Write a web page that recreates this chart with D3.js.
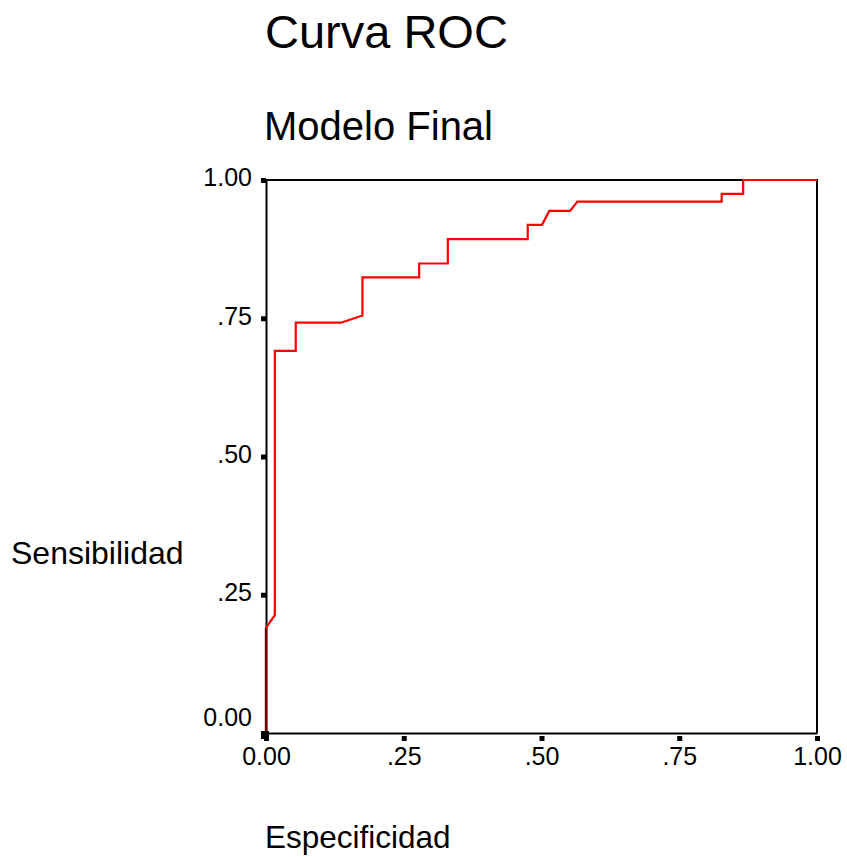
<!DOCTYPE html>
<html lang="es">
<head>
    <meta charset="UTF-8">
    <title>Curva ROC</title>
    <script src="https://d3js.org/d3.v7.min.js"></script>
    <style>
        body { margin: 0; background: #fff; }
        text { font-family: "Liberation Sans", Arial, sans-serif; fill: #000; }
        .axis path { stroke: #000; stroke-width: 2px; }
        .axis line { stroke: #000; stroke-width: 5px; }
        .axis text { font-size: 25px; }
        .roc { fill: none; stroke: #ff0000; stroke-width: 2.2px; }
    </style>
</head>
<body>
    <div id="chart"></div>
    <script>
        // ROC points (x = 1 - specificity, y = sensitivity)
        const fpr = [0, 0, 0.016, 0.016, 0.054, 0.054, 0.136, 0.175, 0.175, 0.278, 0.278, 0.330,
                     0.330, 0.475, 0.475, 0.501, 0.514, 0.552, 0.565, 0.827, 0.827, 0.866, 0.866, 1.0];
        const tpr = [0, 0.19, 0.213, 0.691, 0.691, 0.742, 0.742, 0.755, 0.824, 0.824, 0.849, 0.849,
                     0.893, 0.893, 0.919, 0.919, 0.944, 0.944, 0.961, 0.961, 0.975, 0.975, 1.0, 1.0];
        const tickValues = [0, 0.25, 0.5, 0.75, 1];
        const tickLabels = ["0.00", ".25", ".50", ".75", "1.00"];

        const width = 847, height = 857;
        const margin = { top: 180, right: 30, bottom: 124, left: 266 };

        const svg = d3.select("#chart").append("svg")
            .attr("width", width)
            .attr("height", height);

        const x = d3.scaleLinear().domain([0, 1]).range([margin.left, 817]);
        const y = d3.scaleLinear().domain([0, 1]).range([height - margin.bottom, margin.top]);

        // top / right frame
        svg.append("path")
            .attr("d", `M${x(0)},${y(1)}H${x(1)}V${y(0)}`)
            .attr("fill", "none")
            .attr("stroke", "#000")
            .attr("stroke-width", 2);

        // axes
        const yAxis = svg.append("g")
            .attr("class", "axis")
            .attr("transform", `translate(${x(0)},0)`)
            .call(d3.axisLeft(y).tickValues(tickValues).tickFormat((d, i) => tickLabels[i])
                .tickSizeInner(5).tickSizeOuter(0).tickPadding(14));
        yAxis.selectAll("text").attr("x", -14).attr("dy", d => d === 0 ? "-8px" : "0.23em");

        const xAxis = svg.append("g")
            .attr("class", "axis")
            .attr("transform", `translate(0,${y(0)})`)
            .call(d3.axisBottom(x).tickValues(tickValues).tickFormat((d, i) => tickLabels[i])
                .tickSizeInner(8).tickSizeOuter(0));
        xAxis.selectAll("line").attr("y1", 3).attr("stroke-width", 6);
        xAxis.selectAll("text").attr("y", 14).attr("dy", "0.71em");

        const points = fpr.map((v, i) => [v, tpr[i]]);
        const line = d3.line().x(d => x(d[0])).y(d => y(d[1]));

        svg.append("path")
            .datum(points)
            .attr("class", "roc")
            .attr("d", line);

        // part of the curve lying on the y axis looks dark red
        svg.append("path")
            .datum(points.slice(0, 2))
            .attr("fill", "none")
            .attr("stroke", "#700000")
            .attr("stroke-width", 2.2)
            .attr("d", line);

        // corner marker
        svg.append("rect")
            .attr("x", x(0) - 5).attr("y", y(0) - 2)
            .attr("width", 8).attr("height", 8)
            .attr("fill", "#000");

        // titles
        svg.append("text").attr("x", 265).attr("y", 48)
            .style("font-size", "47px").text("Curva ROC");
        svg.append("text").attr("x", 264).attr("y", 140)
            .style("font-size", "40px").text("Modelo Final");
        svg.append("text").attr("x", 11).attr("y", 564)
            .style("font-size", "32px").text("Sensibilidad");
        svg.append("text").attr("x", 265).attr("y", 848)
            .style("font-size", "31.5px").text("Especificidad");
    </script>
</body>
</html>
